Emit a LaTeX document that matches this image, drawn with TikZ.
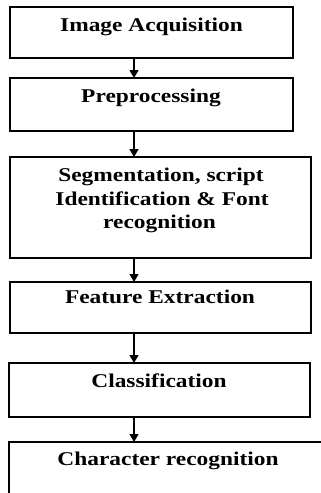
\documentclass[tikz,border=0pt]{standalone}
\usepackage{fontspec}
\setmainfont{Liberation Serif}[FakeStretch=1.2]
\usetikzlibrary{arrows.meta}
\begin{document}
\begin{tikzpicture}[x=1pt,y=-1pt,
  stepbox/.style={draw=black,line width=1.7pt},
  lbl/.style={font=\bfseries\fontsize{19.5}{24}\selectfont,inner sep=0pt,align=center,anchor=base},
  arr/.style={line width=1.3pt,-{Triangle[length=8pt,width=9pt]}}]
\useasboundingbox (0,0) rectangle (321,493);
\begin{scope}
\clip (0,0) rectangle (321,493);
\draw[stepbox] (10,7) rectangle (293,58);
\node[lbl] (t1) at (151.5,31) {Image Acquisition};
\draw[stepbox] (10,78) rectangle (293,131);
\node[lbl] (t2) at (151,102) {Preprocessing};
\draw[stepbox] (10,157) rectangle (311,258);
\node[lbl] (t3a) at (161,181) {Segmentation, script};
\node[lbl] (t3b) at (162,205) {Identification \& Font};
\node[lbl] (t3c) at (159.5,228) {recognition};
\draw[stepbox] (10,282) rectangle (311,333);
\node[lbl] (t4) at (160,303) {Feature Extraction};
\draw[stepbox] (9,363) rectangle (310,417);
\node[lbl] (t5) at (159,387) {Classification};
\draw[stepbox] (9,442) rectangle (330,500);
\node[lbl] (t6) at (168,465) {Character recognition};
\coordinate (a1s) at (134,58); \coordinate (a1e) at (134,78);
\coordinate (a2s) at (134,131); \coordinate (a2e) at (134,157);
\coordinate (a3s) at (134,258); \coordinate (a3e) at (134,282);
\coordinate (a4s) at (134,333); \coordinate (a4e) at (134,363);
\coordinate (a5s) at (134,417); \coordinate (a5e) at (134,442);
\draw[arr] (a1s) -- (a1e);
\draw[arr] (a2s) -- (a2e);
\draw[arr] (a3s) -- (a3e);
\draw[arr] (a4s) -- (a4e);
\draw[arr] (a5s) -- (a5e);
\end{scope}
\end{tikzpicture}
\end{document}
